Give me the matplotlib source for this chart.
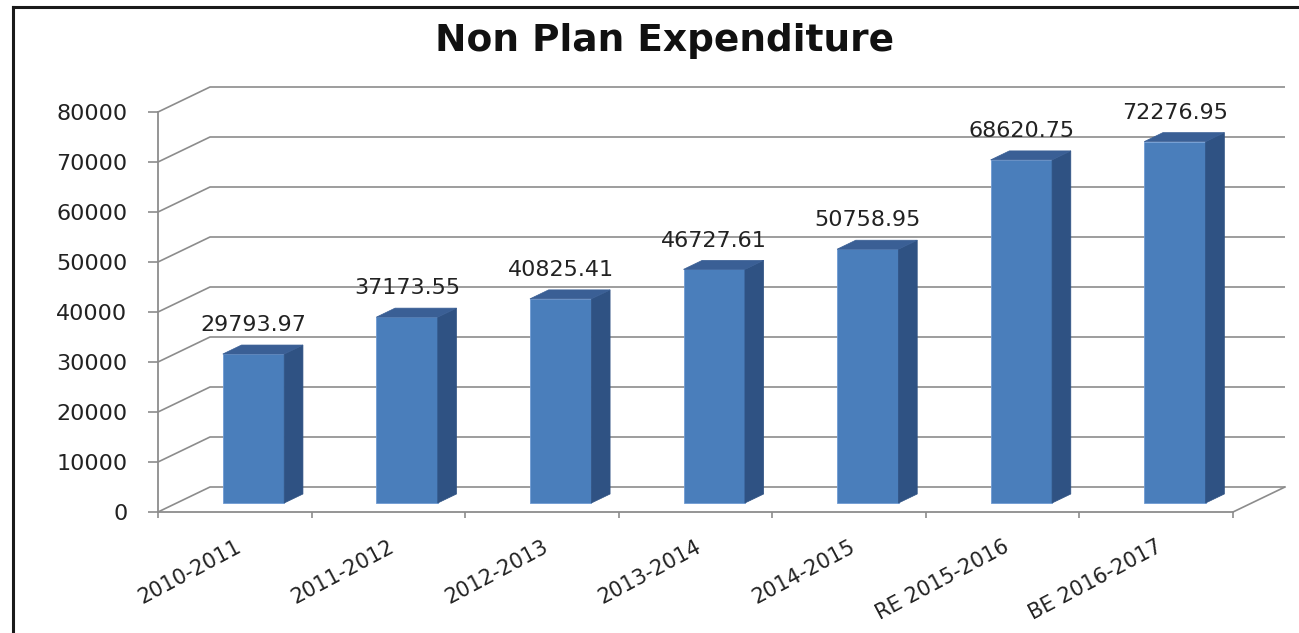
import numpy as np
import matplotlib
matplotlib.use("Agg")
import matplotlib.pyplot as plt
from matplotlib.patches import Polygon
from matplotlib.lines import Line2D

# ---- data ----
categories = ["2010-2011", "2011-2012", "2012-2013", "2013-2014", "2014-2015",
              "RE 2015-2016", "BE 2016-2017"]
values = [29793.97, 37173.55, 40825.41, 46727.61, 50758.95, 68620.75, 72276.95]
value_labels = ["29793.97", "37173.55", "40825.41", "46727.61", "50758.95",
                "68620.75", "72276.95"]
y_ticks = [0, 10000, 20000, 30000, 40000, 50000, 60000, 70000, 80000]
title = "Non Plan Expenditure"

# ---- style / geometry ----
W, H, DPI = 1299, 633, 100
GRID = "#8c8c8c"
TXT = "#222222"
FRONT = "#4a7ebb"
SIDE = "#2f5283"
TOP = "#3a5f95"

fig = plt.figure(figsize=(W / DPI, H / DPI), dpi=DPI)
fig.patch.set_facecolor("white")

x0px, x1px, y0px, y1px = 158, 1233, 512, 112
ax = fig.add_axes([x0px / W, (H - y0px) / H, (x1px - x0px) / W, (y0px - y1px) / H])
n = len(categories)
ax.set_xlim(0, n)
ax.set_ylim(0, 80000)
ax.set_facecolor("none")

# depth offsets (in data units)
px_per_x = (x1px - x0px) / n
px_per_y = (y0px - y1px) / 80000
DX = 52 / px_per_x
DY = 25 / px_per_y

# back wall + side wall gridlines
for v in y_ticks:
    ax.plot([0, DX, n + DX], [v, v + DY, v + DY], color=GRID, lw=1.2,
            clip_on=False, zorder=1, solid_capstyle="butt")
ax.plot([n, n + DX], [0, DY], color=GRID, lw=1.2, clip_on=False, zorder=1)

# bars
f0, f1 = 0.36, 0.72
bw = 0.40
d = f1 - f0
centers = np.arange(n) + 0.5 + f0 * DX
bars = ax.bar(centers, values, width=bw, bottom=f0 * DY, color=FRONT,
              edgecolor="#6f9bd3", linewidth=0.6, zorder=3)
for rect, v, lab in zip(bars, values, value_labels):
    xl = rect.get_x()
    xr = xl + rect.get_width()
    yb = rect.get_y()
    yt = yb + rect.get_height()
    side = Polygon([(xr, yb), (xr + d * DX, yb + d * DY), (xr + d * DX, yt + d * DY), (xr, yt)],
                   closed=True, facecolor=SIDE, edgecolor=SIDE, lw=0.5, zorder=3, clip_on=False)
    top = Polygon([(xl, yt), (xr, yt), (xr + d * DX, yt + d * DY), (xl + d * DX, yt + d * DY)],
                  closed=True, facecolor=TOP, edgecolor=TOP, lw=0.5, zorder=3, clip_on=False)
    ax.add_patch(side)
    ax.add_patch(top)
    ax.annotate(lab, xy=(xl + rect.get_width() / 2, yt + d * DY), xytext=(0, 7),
                textcoords="offset points", ha="center", va="bottom",
                fontsize=16, color=TXT, annotation_clip=False, zorder=5)

# axes
for s in ["top", "right"]:
    ax.spines[s].set_visible(False)
for s in ["left", "bottom"]:
    ax.spines[s].set_color(GRID)
    ax.spines[s].set_linewidth(1.3)

ax.set_yticks(y_ticks)
ax.set_yticklabels([str(t) for t in y_ticks])
ax.tick_params(axis="y", direction="out", length=7, width=1.2, color=GRID,
               pad=15, labelsize=16, labelcolor=TXT)

ax.set_xticks(np.arange(n + 1))
ax.set_xticklabels([])
ax.tick_params(axis="x", which="major", direction="out", length=4, width=1.2, color=GRID)
ax.set_xticks(np.arange(n) + 0.5, minor=True)
ax.set_xticklabels(categories, minor=True)
ax.tick_params(axis="x", which="minor", length=0, pad=18, labelsize=15, labelcolor=TXT)
for t in ax.get_xticklabels(minor=True):
    t.set_rotation(28)
    t.set_ha("right")
    t.set_va("top")
    t.set_rotation_mode("anchor")

# title
fig.text(665 / W, 1 - 41 / H, title, ha="center", va="center",
         fontsize=27, fontweight="bold", color="#111111")

# outer frame (left and top)
fx, fy = 13 / W, 1 - 7 / H
fig.add_artist(Line2D([fx, fx], [0, fy], transform=fig.transFigure, color="#1a1a1a", lw=2.2))
fig.add_artist(Line2D([fx, 1], [fy, fy], transform=fig.transFigure, color="#1a1a1a", lw=2.2))

fig.savefig("out.png", dpi=DPI, facecolor="white")
